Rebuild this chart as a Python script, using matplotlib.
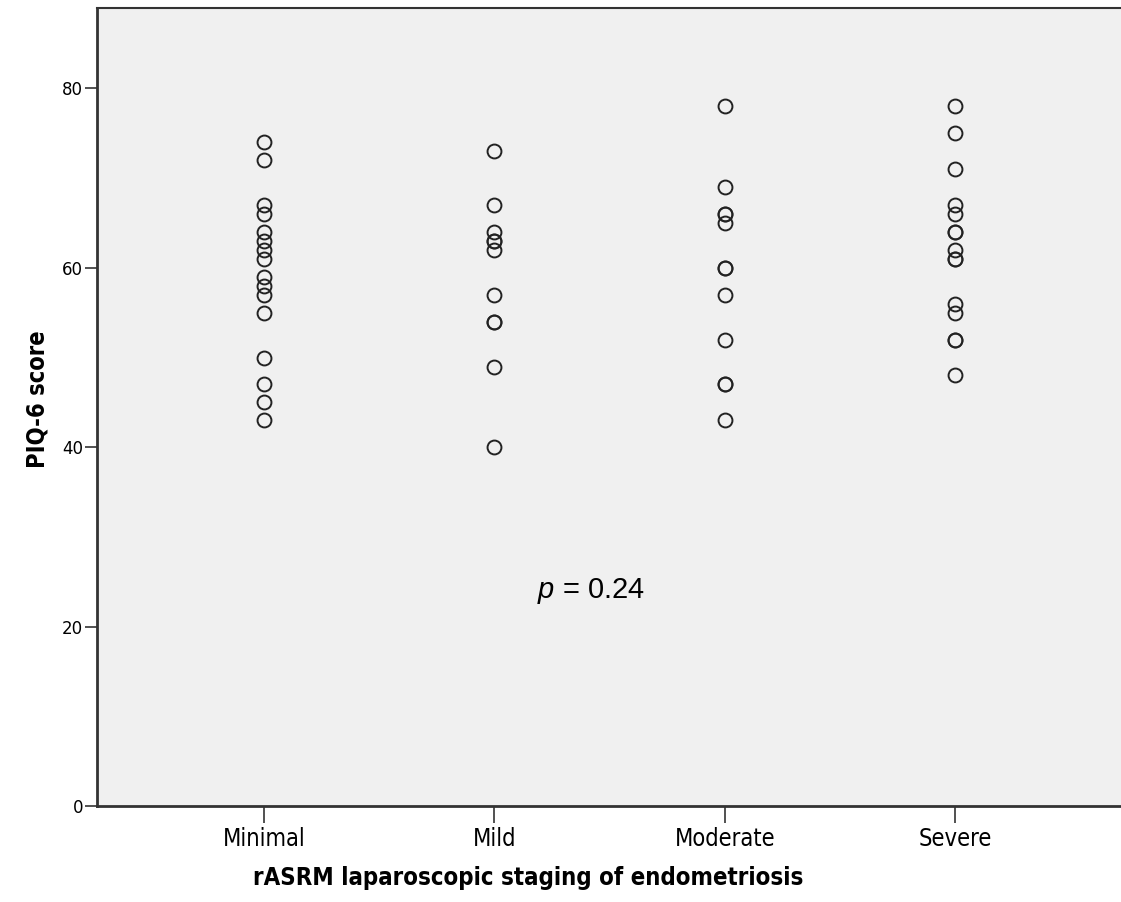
import numpy as np
import matplotlib.pyplot as plt

# PIQ-6 scores, one list per rASRM stage
categories = ["Minimal", "Mild", "Moderate", "Severe"]
minimal = [74, 72, 67, 66, 64, 63, 62, 61, 59, 58, 57, 55, 50, 47, 45, 43]
mild = [73, 67, 64, 63, 63, 62, 57, 54, 54, 49, 40]
moderate = [78, 69, 66, 66, 65, 60, 60, 57, 52, 47, 47, 43]
severe = [78, 75, 71, 67, 66, 64, 64, 62, 61, 61, 56, 55, 52, 52, 48]
y_ticks = [0, 20, 40, 60, 80]
p_text = "= 0.24"

plt.rcParams["mathtext.fontset"] = "custom"
plt.rcParams["mathtext.it"] = "Liberation Sans:italic"
plt.rcParams["mathtext.rm"] = "Liberation Sans"

fig = plt.figure(figsize=(11.21, 9.02), dpi=100)
ax = fig.add_axes([0.0865, 0.1064, 0.9135, 0.885])
ax.set_facecolor("#f0f0f0")

for i, vals in enumerate([minimal, mild, moderate, severe]):
    xs = np.full(len(vals), i + 1)
    ax.plot(xs, vals, linestyle="none", marker="o", markersize=10,
            markerfacecolor="none", markeredgecolor="#222222", markeredgewidth=1.4)

ax.set_xlim(0.275, 4.72)
ax.set_ylim(0, 89)
ax.set_xticks([1, 2, 3, 4])
ax.set_xticklabels(categories, family="DejaVu Sans", fontstretch="condensed", fontsize=17)
ax.set_yticks(y_ticks)
ax.set_yticklabels([str(t) for t in y_ticks], family="DejaVu Sans", fontsize=12)
ax.tick_params(axis="y", length=9, width=1.2, color="#333333", pad=1)
ax.tick_params(axis="x", length=12, width=1.2, color="#333333", pad=3)

for s in ["left", "bottom"]:
    ax.spines[s].set_linewidth(2)
    ax.spines[s].set_color("#333333")
ax.spines["top"].set_linewidth(1.5)
ax.spines["top"].set_color("#333333")
ax.spines["right"].set_visible(False)

ax.set_ylabel("PIQ-6 score", family="DejaVu Sans", fontstretch="condensed",
              fontsize=17, fontweight="bold")
ax.yaxis.set_label_coords(-0.046, 0.51)
ax.set_xlabel("rASRM laparoscopic staging of endometriosis", family="DejaVu Sans",
              fontstretch="condensed", fontsize=17.2, fontweight="bold")
ax.xaxis.set_label_coords(0.421, -0.075)

ax.text(2.42, 24, "$p$ " + p_text, fontsize=21, family="Liberation Sans",
        ha="center", va="center")

fig.savefig("out.png", dpi=100)
